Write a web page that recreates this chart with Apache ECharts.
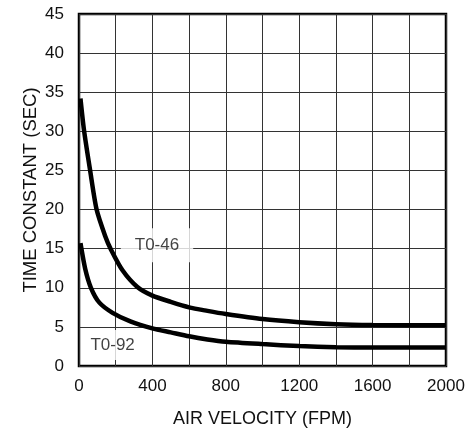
<!DOCTYPE html>
<html>
<head>
<meta charset="utf-8">
<script src="https://cdn.jsdelivr.net/npm/echarts@6/dist/echarts.min.js"></script>
<style>
html,body{margin:0;padding:0;background:#fff;}
#c{width:472px;height:430px;}
</style>
</head>
<body>
<div id="c"></div>
<script>
// Data
const t046Velocity = [8, 27, 60, 96, 143, 174, 238, 318, 400, 500, 600, 700, 800, 1000, 1200, 1400, 1600, 2000];
const t046Time     = [34.2, 30.2, 25.1, 20.0, 16.6, 14.9, 12.2, 10.1, 9.0, 8.2, 7.5, 7.05, 6.65, 6.0, 5.6, 5.35, 5.25, 5.2];
const t092Velocity = [8, 34, 65, 111, 183, 280, 400, 500, 600, 700, 800, 1000, 1200, 1400, 1600, 2000];
const t092Time     = [15.7, 12.4, 10.0, 8.1, 6.8, 5.7, 4.8, 4.3, 3.8, 3.4, 3.1, 2.8, 2.55, 2.4, 2.35, 2.35];
const curveLabels  = ['T0-46', 'T0-92'];
const labelVelocity = [425, 183];
const labelTime     = [15.45, 2.7];
const xTicks = [0, 400, 800, 1200, 1600, 2000];
const yTicks = [0, 5, 10, 15, 20, 25, 30, 35, 40, 45];

const zip = (a, b) => a.map((v, i) => [v, b[i]]);
const FONT = '"Liberation Sans", Arial, sans-serif';
const labelPads = [[9, 14, 8, 14], [7, 6, 6, 6]];

const chart = echarts.init(document.getElementById('c'));
chart.setOption({
  animation: false,
  backgroundColor: '#fff',
  grid: {
    left: 79, right: 26, top: 14, bottom: 64,
    outerBoundsMode: 'none', containLabel: false,
    show: true, borderColor: '#000', borderWidth: 2.5, backgroundColor: 'transparent'
  },
  xAxis: {
    type: 'value',
    min: xTicks[0], max: xTicks[xTicks.length - 1], interval: 400,
    name: 'AIR VELOCITY (FPM)', nameLocation: 'middle', nameGap: 44, nameMoveOverlap: false,
    nameTextStyle: { fontFamily: FONT, fontSize: 18, color: '#111' },
    axisLine: { show: false },
    axisTick: { show: false },
    axisLabel: { fontFamily: FONT, fontSize: 17, color: '#111', margin: 12, formatter: v => String(v) },
    splitLine: { show: true, lineStyle: { color: '#333', width: 1 } },
    minorTick: { show: false, splitNumber: 2 },
    minorSplitLine: { show: true, lineStyle: { color: '#333', width: 1 } }
  },
  yAxis: {
    type: 'value',
    min: yTicks[0], max: yTicks[yTicks.length - 1], interval: 5,
    name: 'TIME CONSTANT (SEC)', nameLocation: 'middle', nameGap: 39, nameMoveOverlap: false,
    nameTextStyle: { fontFamily: FONT, fontSize: 18.5, color: '#111' },
    axisLine: { show: false },
    axisTick: { show: false },
    axisLabel: { fontFamily: FONT, fontSize: 17, color: '#111', margin: 15 },
    splitLine: { show: true, lineStyle: { color: '#333', width: 1 } }
  },
  series: [
    {
      type: 'scatter', z: 1,
      symbolSize: 1,
      itemStyle: { color: 'rgba(0,0,0,0)' },
      data: curveLabels.map((n, i) => ({
        value: [labelVelocity[i], labelTime[i]], name: n,
        label: { padding: labelPads[i] }
      })),
      label: {
        show: true, position: 'inside', formatter: p => p.name,
        fontFamily: FONT, fontSize: 17, color: '#111',
        backgroundColor: '#fff'
      },
      emphasis: { disabled: true }
    },
    {
      type: 'line', z: 3, name: 'T0-46', smooth: 0.25, showSymbol: false,
      data: zip(t046Velocity, t046Time),
      lineStyle: { color: '#000', width: 4.5 }
    },
    {
      type: 'line', z: 3, name: 'T0-92', smooth: 0.25, showSymbol: false,
      data: zip(t092Velocity, t092Time),
      lineStyle: { color: '#000', width: 4.5 }
    }
  ]
});
</script>
</body>
</html>
